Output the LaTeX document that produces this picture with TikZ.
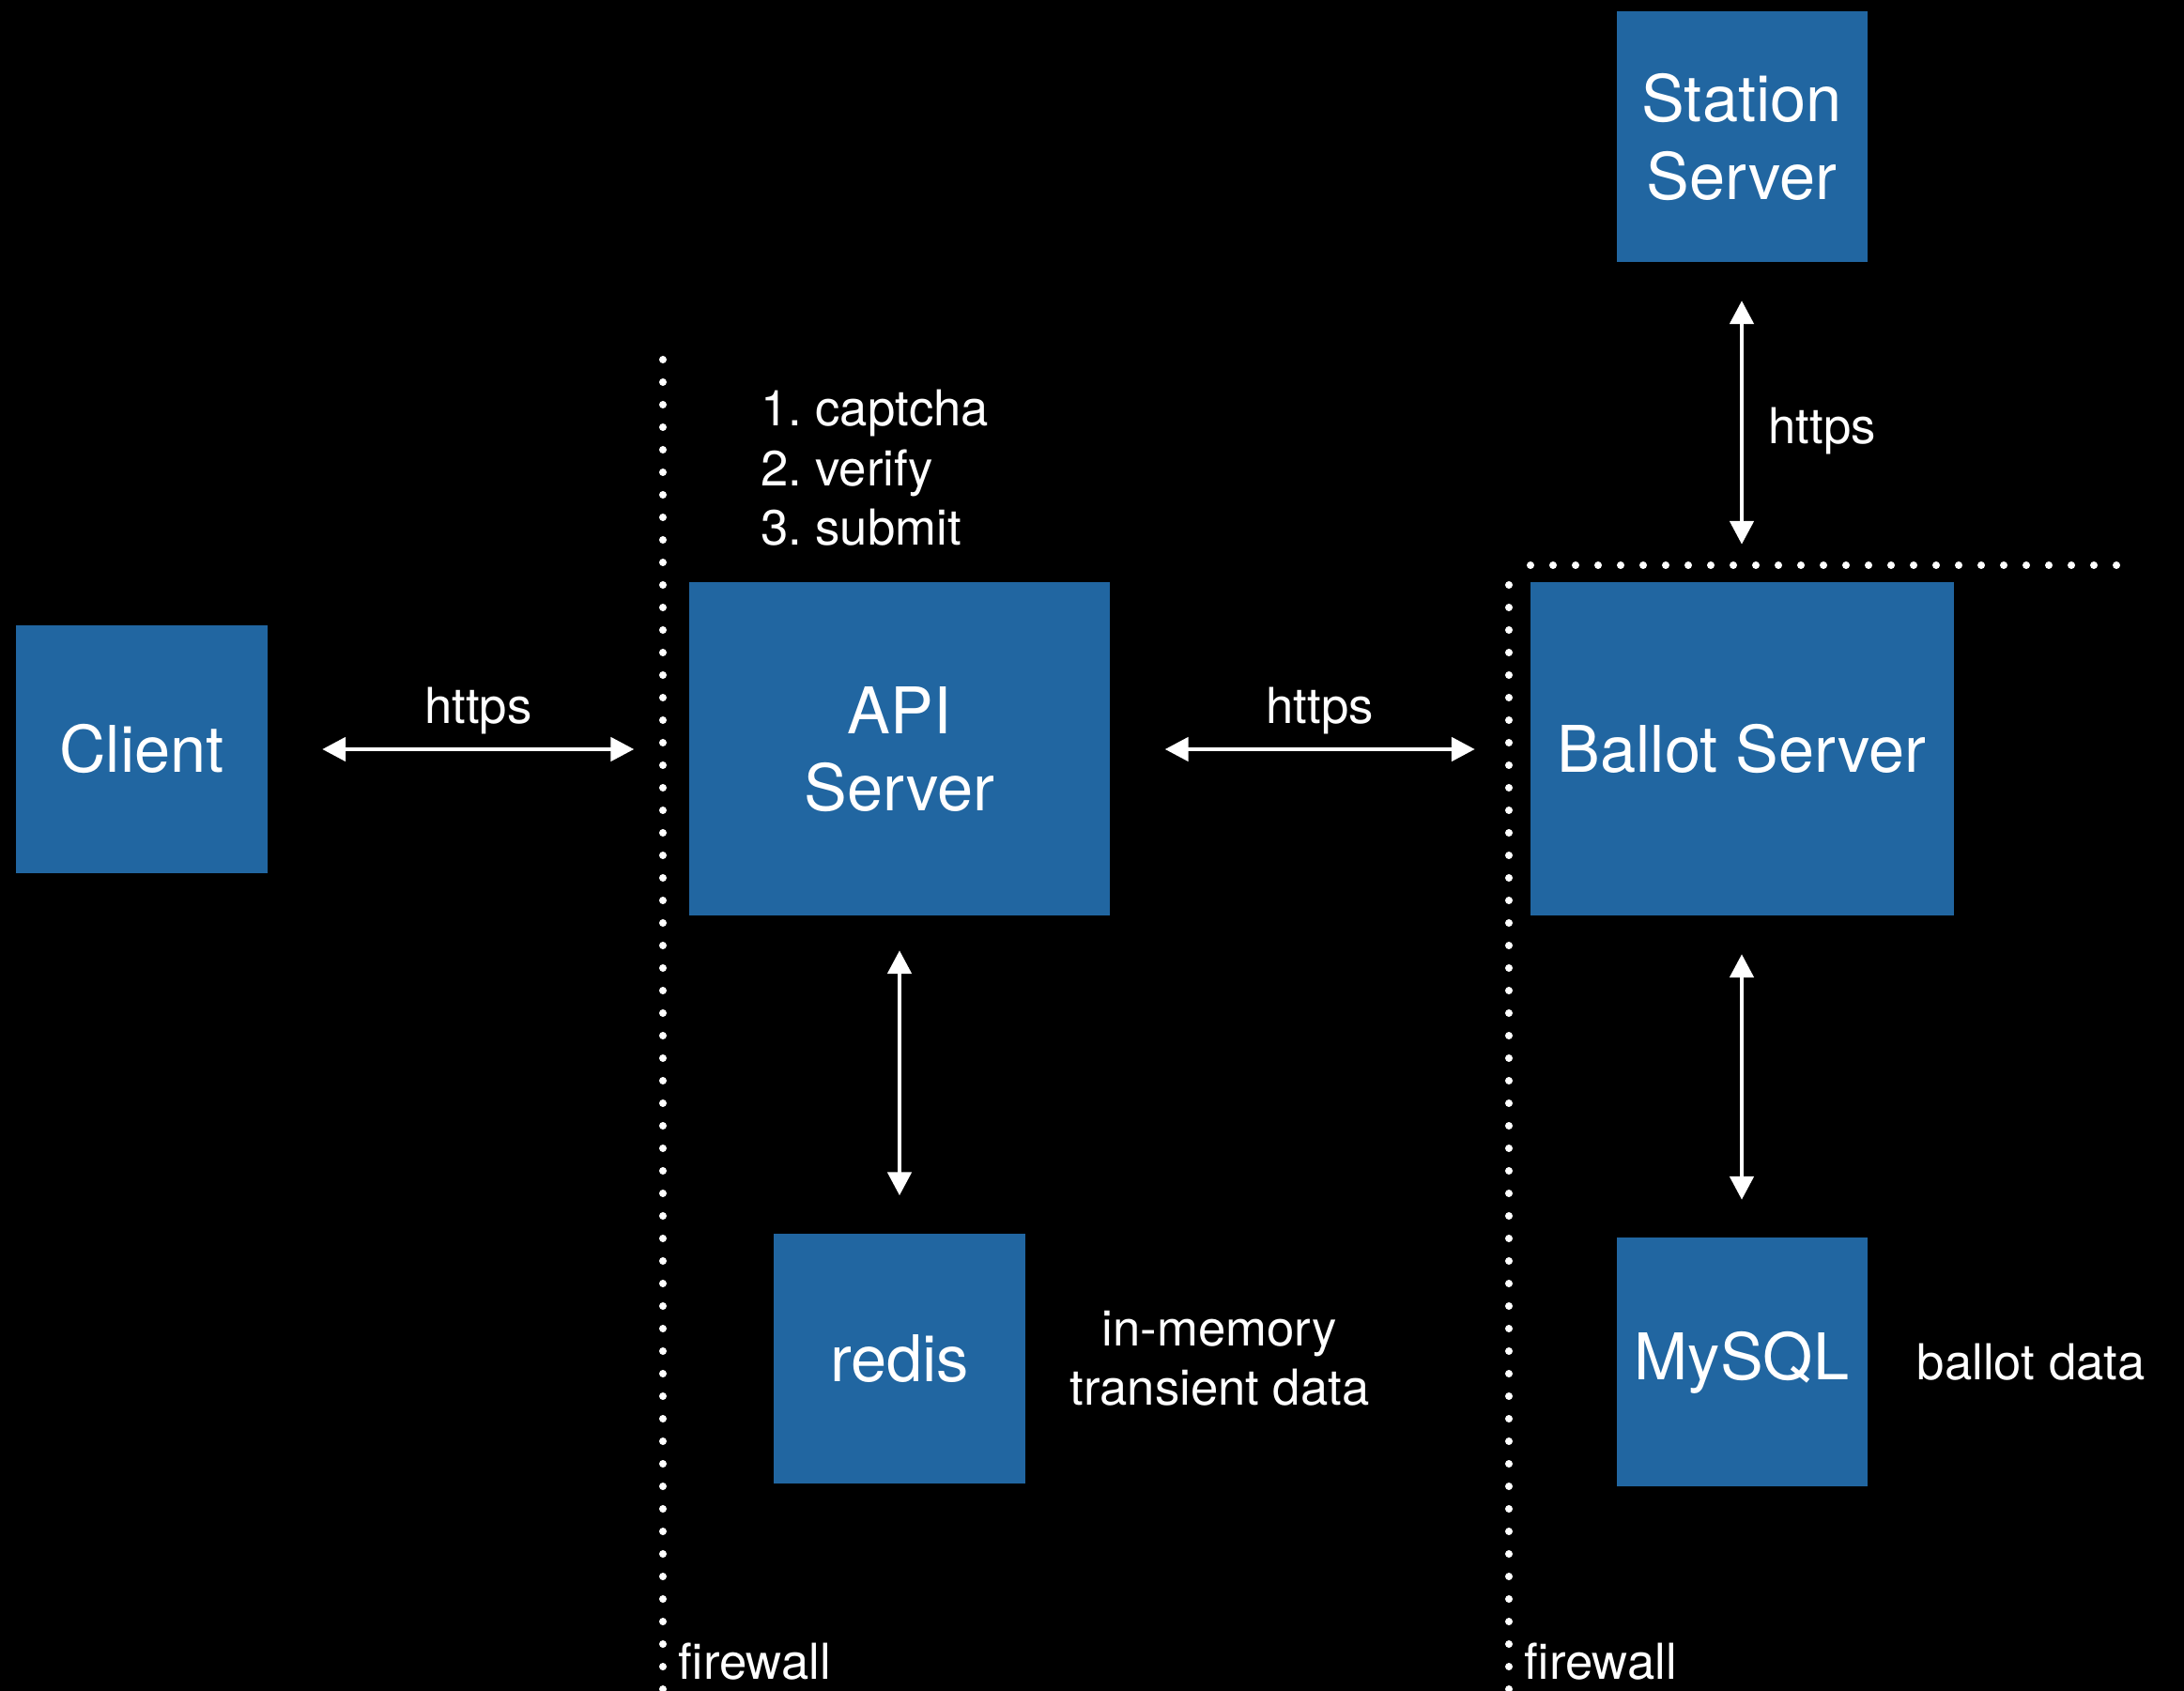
\documentclass[tikz,border=0pt]{standalone}
\usepackage{fontspec}
\setmainfont{TeX Gyre Heros}
\frenchspacing
\usetikzlibrary{arrows.meta,positioning}
\definecolor{boxblue}{RGB}{33,102,161}
\tikzset{
  srv/.style={fill=boxblue, text=white, align=center, inner sep=0pt, font=\fontsize{19.5}{23.5}\selectfont},
  link/.style={white, line width=1.4pt, {Triangle[length=0.25cm,width=0.25cm]}-{Triangle[length=0.25cm,width=0.25cm]}},
  lbl/.style={text=white, inner sep=0pt, font=\fontsize{15}{18}\selectfont},
  wall/.style={white, line width=0.08cm, line cap=round, dash pattern=on 0pt off 0.24cm}
}
\begin{document}
\begin{tikzpicture}
\useasboundingbox (0,0) rectangle (23.26,18.01);
\fill[black] (0,0) rectangle (23.26,18.01);
\path
(7.06,14.18) coordinate (fwA)
(7.06,0) coordinate (fwAend)
(16.07,11.78) coordinate (fwB)
(16.07,0) coordinate (fwBend)
(16.30,11.99) coordinate (lan)
(22.59,11.99) coordinate (lanend)
;
\node[srv, minimum width=2.67cm, minimum height=2.64cm] (client) at (1.51,10.03) {Client};
\node[srv, minimum width=4.48cm, minimum height=3.55cm] (api) at (9.58,10.03) {API\\Server};
\node[srv, minimum width=4.51cm, minimum height=3.55cm] (ballot) at (18.55,10.03) {Ballot Server};
\node[srv, minimum width=2.67cm, minimum height=2.67cm] (station) at (18.55,16.55) {Station\\Server};
\node[srv, minimum width=2.68cm, minimum height=2.66cm] (redis) at (9.58,3.54) {redis};
\node[srv, minimum width=2.67cm, minimum height=2.65cm] (mysql) at (18.55,3.50) {MySQL};

\draw[wall] (fwA)--(fwAend) (fwB)--(fwBend) (lan)--(lanend);
\foreach \w in {fwAend, fwBend}
\node[lbl, anchor=base west] at ([xshift=0.16cm, yshift=0.12cm]\w) {firewall};

\draw[link, shorten <=0.58cm, shorten >=0.58cm] (client) -- node[lbl, above=0.14cm] {https} (api);
\draw[link, shorten <=0.58cm, shorten >=0.58cm] (api) -- node[lbl, above=0.14cm] {https} (ballot);
\draw[link, shorten <=0.4cm, shorten >=0.4cm] (station) -- node[lbl, right=0.26cm, yshift=-0.09cm] {https} (ballot);
\draw[link, shorten <=0.36cm, shorten >=0.4cm] (api) -- (redis);
\draw[link, shorten <=0.4cm, shorten >=0.4cm] (ballot) -- (mysql);

\node[lbl, align=left, anchor=south west] (steps) at ([xshift=0.76cm, yshift=0.38cm]api.north west) {1. captcha\\2. verify\\3. submit};
\node[lbl, align=center, right=0.46cm of redis] (redisnote) {in-memory\\transient data};
\node[lbl, right=0.52cm of mysql] (mysqlnote) {ballot data};
\end{tikzpicture}
\end{document}
